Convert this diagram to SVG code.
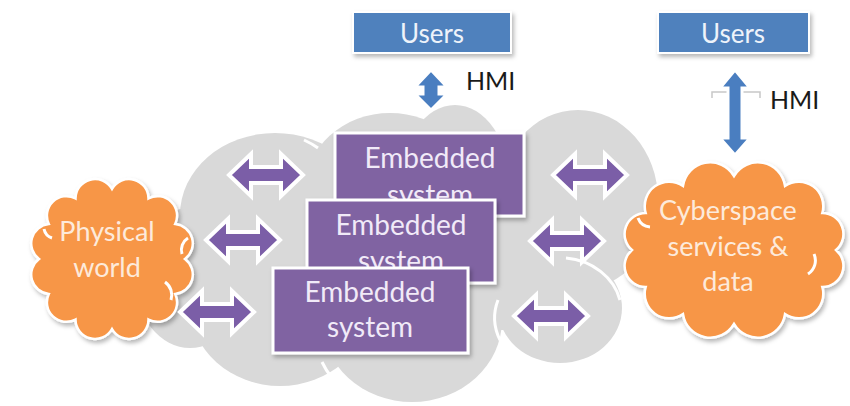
<svg xmlns="http://www.w3.org/2000/svg" width="850" height="406" viewBox="0 0 850 406">
<defs>
<style>
.lbl{font-family:Lato,"Liberation Sans",sans-serif;text-anchor:middle}
.box{fill:#4f81bd;stroke:#ffffff;stroke-width:2}
.emb{fill:#8064a2;stroke:#ffffff;stroke-width:3}
.embt{fill:#f1eaf8;font-size:28px}
.usert{fill:#eef3fa;font-size:26px}
.hmi{fill:#1a1a1a;font-size:25px;text-anchor:start}
.cloudt{fill:#fdeadb;font-size:27px}
.orange{fill:#f79646;stroke:#ffffff;stroke-width:2.5}
.parr{fill:#7b5ea7;stroke:#ffffff;stroke-width:4;stroke-linejoin:miter}
.barr{fill:#4a7ec0;stroke:#ffffff;stroke-width:3}
.gout{fill:#d9d9d9;stroke:#ffffff;stroke-width:5}
.gin{fill:#d9d9d9}
.garc{fill:none;stroke:#ffffff;stroke-width:3}
</style>
<filter id="sh" x="-10%" y="-10%" width="130%" height="140%">
<feDropShadow dx="2" dy="3" stdDeviation="2" flood-color="#000" flood-opacity="0.28"/>
</filter>
<path id="harr" d="M0,21 L22,0 L22,13 L52,13 L52,0 L74,21 L52,42 L52,29 L22,29 L22,42 Z"/>
</defs>

<g id="network-cloud">
<ellipse class="gout" cx="275" cy="215" rx="95" ry="82"/>
<ellipse class="gout" cx="390" cy="190" rx="85" ry="77"/>
<ellipse class="gout" cx="455" cy="185" rx="55" ry="80"/>
<ellipse class="gout" cx="578" cy="200" rx="80" ry="90"/>
<ellipse class="gout" cx="560" cy="308" rx="62" ry="55"/>
<ellipse class="gout" cx="412" cy="320" rx="90" ry="82"/>
<ellipse class="gout" cx="280" cy="305" rx="90" ry="81"/>
<ellipse class="gout" cx="190" cy="278" rx="55" ry="70"/>
<ellipse class="gin" cx="275" cy="215" rx="95" ry="82"/>
<ellipse class="gin" cx="390" cy="190" rx="85" ry="77"/>
<ellipse class="gin" cx="455" cy="185" rx="55" ry="80"/>
<ellipse class="gin" cx="578" cy="200" rx="80" ry="90"/>
<ellipse class="gin" cx="560" cy="308" rx="62" ry="55"/>
<ellipse class="gin" cx="412" cy="320" rx="90" ry="82"/>
<ellipse class="gin" cx="280" cy="305" rx="90" ry="81"/>
<ellipse class="gin" cx="190" cy="278" rx="55" ry="70"/>
<rect class="gin" x="230" y="180" width="360" height="150"/>
<path class="garc" d="M566,258 A62,55 0 0 1 620,300"/>
<path class="garc" d="M498,300 A62,55 0 0 0 500,340"/>
<path class="garc" d="M322,362 A90,82 0 0 0 332,378"/>
<path class="garc" d="M304,140 A85,77 0 0 1 318,148"/>
</g>

<g id="physical-world">
<path class="orange" filter="url(#sh)" d="M185,259 A19.5,19.5 0 0 1 175.2,294 A19.5,19.5 0 0 1 148.5,319.6 A19.5,19.5 0 0 1 112,329 A19.5,19.5 0 0 1 75.5,319.6 A19.5,19.5 0 0 1 48.8,294 A19.5,19.5 0 0 1 39,259 A19.5,19.5 0 0 1 48.8,224 A19.5,19.5 0 0 1 75.5,198.4 A19.5,19.5 0 0 1 112,189 A19.5,19.5 0 0 1 148.5,198.4 A19.5,19.5 0 0 1 175.2,224 A19.5,19.5 0 0 1 185,259 Z"/>
<path class="garc" d="M188,238 A14,14 0 0 0 182,254"/>
<path class="garc" d="M165,282 A16,16 0 0 1 171,300"/>
<path class="garc" d="M44,229 A12,12 0 0 0 52,238"/>
<text class="lbl cloudt" x="107" y="241">Physical</text>
<text class="lbl cloudt" x="107" y="277">world</text>
</g>

<g id="cyberspace">
<path class="orange" filter="url(#sh)" d="M836,250 A21,21 0 0 1 822.3,287 A24.5,24.5 0 0 1 785,314.1 A27.5,27.5 0 0 1 734,324 A27.5,27.5 0 0 1 683,314.1 A24.5,24.5 0 0 1 645.7,287 A21,21 0 0 1 632,250 A21,21 0 0 1 645.7,213 A24.5,24.5 0 0 1 683,185.9 A27.5,27.5 0 0 1 734,176 A27.5,27.5 0 0 1 785,185.9 A24.5,24.5 0 0 1 822.3,213 A21,21 0 0 1 836,250 Z"/>
<path class="garc" d="M638,218 A14,14 0 0 0 650,227"/>
<path class="garc" d="M814,254 A16,16 0 0 1 808,274"/>
<text class="lbl cloudt" x="728" y="220">Cyberspace</text>
<text class="lbl cloudt" x="728" y="256">services &amp;</text>
<text class="lbl cloudt" x="728" y="291">data</text>
</g>

<g id="users-1">
<rect class="box" filter="url(#sh)" x="353" y="12" width="158" height="41"/>
<text class="lbl usert" x="432" y="43">Users</text>
</g>

<g id="users-2">
<rect class="box" filter="url(#sh)" x="658" y="12" width="151" height="41"/>
<text class="lbl usert" x="733" y="43">Users</text>
</g>

<g id="embedded-1">
<rect class="emb" filter="url(#sh)" x="335" y="133" width="189" height="83"/>
<text class="lbl embt" x="430" y="168">Embedded</text>
<text class="lbl embt" x="430" y="205">system</text>
</g>

<g id="embedded-2">
<rect class="emb" filter="url(#sh)" x="307" y="200" width="188" height="83"/>
<text class="lbl embt" x="401" y="235">Embedded</text>
<text class="lbl embt" x="401" y="271">system</text>
</g>

<g id="embedded-3">
<rect class="emb" filter="url(#sh)" x="273" y="268" width="195" height="85"/>
<text class="lbl embt" x="370" y="302">Embedded</text>
<text class="lbl embt" x="370" y="337">system</text>
</g>

<g id="connectors">
<use href="#harr" class="parr" x="229" y="154"/>
<use href="#harr" class="parr" x="206" y="219"/>
<use href="#harr" class="parr" x="180" y="291"/>
<use href="#harr" class="parr" x="553" y="154"/>
<use href="#harr" class="parr" x="530" y="220"/>
<use href="#harr" class="parr" x="514" y="295"/>
<path d="M712,98 L712,92 L760,92 L760,98" fill="none" stroke="#c8c8c8" stroke-width="1.5"/>
<path class="barr" d="M431,70 L447,87 L439,87 L439,94 L447,94 L431,110 L415,94 L423,94 L423,87 L415,87 Z"/>
<path class="barr" d="M735,70 L750,88 L742,88 L742,138 L750,138 L735,155 L720,138 L728,138 L728,88 L720,88 Z"/>
<text class="lbl hmi" x="466" y="90">HMI</text>
<text class="lbl hmi" x="770" y="109">HMI</text>
</g>
</svg>
